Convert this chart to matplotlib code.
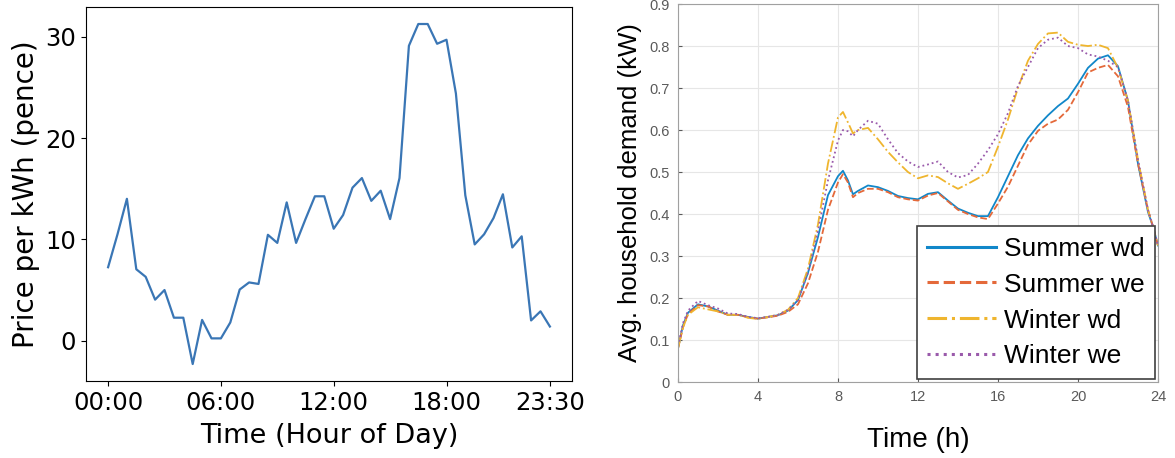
import matplotlib
matplotlib.use('Agg')
import matplotlib.pyplot as plt
from matplotlib.lines import Line2D

# half-hourly price (pence per kWh), 00:00 .. 23:30
price = [7.25, 10.5, 14.0, 7.05, 6.3, 4.05, 5.0, 2.27, 2.27, -2.3,
         2.05, 0.23, 0.23, 1.8, 5.05, 5.75, 5.6, 10.45, 9.65, 13.65,
         9.65, 12.0, 14.25, 14.25, 11.05, 12.4, 15.1, 16.05, 13.8, 14.8,
         12.0, 16.05, 29.1, 31.25, 31.25, 29.3, 29.7, 24.4, 14.35, 9.5,
         10.5, 12.1, 14.45, 9.2, 10.3, 2.0, 2.9, 1.4]
price_tick_pos = [0, 12, 24, 36, 47]
price_tick_labels = ['00:00', '06:00', '12:00', '18:00', '23:30']

# household demand profiles (kW)
hours = [0, 0.25, 0.5, 1, 1.5, 2, 2.5, 3, 3.5, 4, 4.5, 5, 5.5, 6, 6.5, 7, 7.5, 8,
         8.25, 8.5, 8.75, 9, 9.5, 10, 10.5, 11, 11.5, 12, 12.5, 13, 13.5, 14,
         14.5, 15, 15.5, 16, 16.5, 17, 17.5, 18, 18.5, 19, 19.5, 20, 20.5, 21,
         21.5, 22, 22.5, 23, 23.5, 23.75, 24]
summer_wd = [0.08, 0.135, 0.165, 0.185, 0.18, 0.17, 0.16, 0.16, 0.155, 0.151,
             0.155, 0.159, 0.17, 0.195, 0.26, 0.345, 0.445, 0.49, 0.503, 0.48,
             0.447, 0.455, 0.468, 0.464, 0.455, 0.443, 0.438, 0.435, 0.448, 0.452,
             0.432, 0.413, 0.403, 0.395, 0.395, 0.44, 0.49, 0.54, 0.58, 0.61,
             0.635, 0.657, 0.675, 0.71, 0.748, 0.77, 0.778, 0.752, 0.67, 0.52,
             0.405, 0.37, 0.325]
summer_we = [0.08, 0.13, 0.162, 0.183, 0.18, 0.168, 0.16, 0.16, 0.154, 0.151,
             0.154, 0.158, 0.167, 0.185, 0.235, 0.31, 0.41, 0.475, 0.495, 0.475,
             0.44, 0.45, 0.46, 0.46, 0.452, 0.44, 0.435, 0.432, 0.444, 0.45,
             0.43, 0.41, 0.4, 0.392, 0.388, 0.425, 0.465, 0.515, 0.565, 0.598,
             0.615, 0.625, 0.648, 0.69, 0.737, 0.748, 0.755, 0.728, 0.655, 0.52,
             0.41, 0.37, 0.325]
winter_wd = [0.08, 0.13, 0.16, 0.178, 0.173, 0.168, 0.16, 0.16, 0.153, 0.15,
             0.155, 0.16, 0.172, 0.2, 0.27, 0.375, 0.52, 0.63, 0.643, 0.618,
             0.592, 0.6, 0.605, 0.578, 0.548, 0.523, 0.5, 0.485, 0.492, 0.488,
             0.473, 0.46, 0.472, 0.485, 0.5, 0.56, 0.625, 0.7, 0.765, 0.805,
             0.83, 0.832, 0.81, 0.803, 0.8, 0.803, 0.795, 0.748, 0.67, 0.53,
             0.41, 0.37, 0.325]
winter_we = [0.085, 0.14, 0.17, 0.193, 0.183, 0.175, 0.163, 0.162, 0.155, 0.152,
             0.155, 0.16, 0.172, 0.195, 0.26, 0.36, 0.48, 0.575, 0.6, 0.597,
             0.585, 0.6, 0.622, 0.615, 0.578, 0.545, 0.525, 0.512, 0.518, 0.525,
             0.5, 0.487, 0.493, 0.52, 0.552, 0.59, 0.64, 0.705, 0.75, 0.795,
             0.815, 0.82, 0.8, 0.795, 0.78, 0.775, 0.765, 0.75, 0.67, 0.53,
             0.41, 0.37, 0.325]
series_names = ['Summer wd', 'Summer we', 'Winter wd', 'Winter we']
demand_xticks = [0, 4, 8, 12, 16, 20, 24]
demand_yticks = [0, 0.1, 0.2, 0.3, 0.4, 0.5, 0.6, 0.7, 0.8, 0.9]
demand_yticklabels = ['0', '0.1', '0.2', '0.3', '0.4', '0.5', '0.6', '0.7', '0.8', '0.9']

fig = plt.figure(figsize=(11.75, 4.58), dpi=100)

# left: price curve
ax1 = fig.add_axes([0.0732, 0.1681, 0.4136, 0.8166])
ax1.plot(range(len(price)), price, color='#3a76b5', lw=1.6)
ax1.set_xticks(price_tick_pos)
ax1.set_xticklabels(price_tick_labels)
ax1.set_yticks([0, 10, 20, 30])
ax1.tick_params(labelsize=17.5)
ax1.set_xlabel('Time (Hour of Day)', fontsize=19.5, labelpad=6)
ax1.set_ylabel('Price per kWh (pence)', fontsize=20, labelpad=4)

# right: demand profiles, MATLAB look
mfont = 'Liberation Sans'
ax2 = fig.add_axes([0.5770, 0.1659, 0.4085, 0.8253])
colors = ['#1187c9', '#e4693a', '#efb52e', '#9a5aab']
styles = ['-', '--', '-.', ':']
for vals, c, ls in zip([summer_wd, summer_we, winter_wd, winter_we], colors, styles):
    ax2.plot(hours, vals, color=c, ls=ls, lw=1.3)
ax2.set_xlim(0, 24)
ax2.set_ylim(0, 0.9)
ax2.set_xticks(demand_xticks)
ax2.set_yticks(demand_yticks)
ax2.set_yticklabels(demand_yticklabels)
for lab in ax2.get_xticklabels() + ax2.get_yticklabels():
    lab.set_family(mfont)
ax2.tick_params(direction='in', length=3, labelsize=10.5, colors='#5a5a5a', pad=6)
ax2.grid(True, color='#e6e6e6', lw=0.8)
ax2.set_axisbelow(True)
for s in ax2.spines.values():
    s.set_color('#a0a0a0')
ax2.set_xlabel('Time (h)', fontsize=20, family=mfont, labelpad=16)
ax2.set_ylabel('Avg. household demand (kW)', fontsize=18.5, family=mfont, labelpad=5)

handles = [Line2D([], [], color=c, ls=ls, lw=2.2) for c, ls in zip(colors, styles)]
leg = ax2.legend(handles, series_names, loc='lower right', bbox_to_anchor=(0.994, 0.008),
                 borderaxespad=0, fancybox=False, framealpha=1, edgecolor='#404040',
                 prop={'family': mfont, 'size': 19}, handlelength=2.6,
                 handletextpad=0.3, labelspacing=0.45, borderpad=0.4)
leg.get_frame().set_linewidth(1.2)

fig.savefig('out.png', dpi=100)
